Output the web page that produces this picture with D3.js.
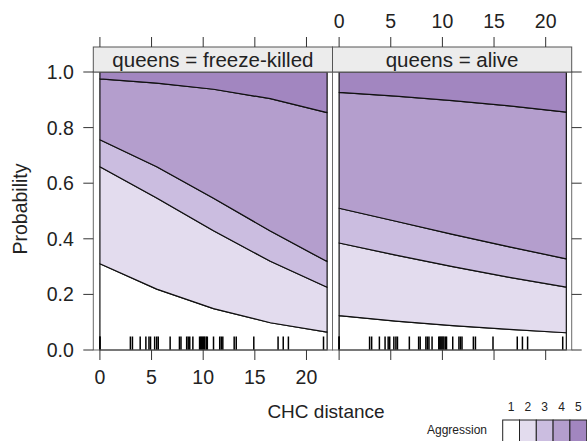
<!DOCTYPE html>
<html>
<head>
<meta charset="utf-8">
<script src="https://cdn.jsdelivr.net/npm/d3@7"></script>
<style>
  body { margin: 0; background: #fff; }
  svg { display: block; font-family: "Liberation Sans", Arial, sans-serif; }
</style>
</head>
<body>
<div id="chart"></div>
<script>
// ── Data ──
const panelNames = ["queens = freeze-killed", "queens = alive"];
const distance = [0, 5.5, 11, 16.5, 22];

// cumulative probabilities P(Aggression <= k), k = 1..4
const freezeKilled = [
    [0.310, 0.219, 0.149, 0.098, 0.064],
    [0.659, 0.547, 0.429, 0.319, 0.226],
    [0.756, 0.659, 0.546, 0.428, 0.318],
    [0.975, 0.960, 0.938, 0.904, 0.854]
];
const alive = [
    [0.124, 0.104, 0.088, 0.074, 0.062],
    [0.385, 0.341, 0.300, 0.261, 0.226],
    [0.510, 0.463, 0.416, 0.371, 0.328],
    [0.927, 0.913, 0.897, 0.878, 0.856]
];

const rugValues = [0, 0, 2.95, 3.15, 3.9, 4.45, 4.75, 4.9, 5.3, 5.5, 5.65, 6.8, 7.7, 7.85,
    8.4, 8.55, 8.7, 9.0, 9.65, 9.75, 9.85, 9.95, 10.05, 10.15, 10.3, 10.4, 11.0, 11.6,
    11.75, 11.9, 13.0, 13.2, 14.9, 17.25, 17.75, 18.25, 21.65];

const levels = ["1", "2", "3", "4", "5"];
const levelColors = ["#ffffff", "#e3dcee", "#cbbde0", "#b49ecd", "#a286c0"];
const xTicks = [0, 5, 10, 15, 20];
const yTicks = [0, 0.2, 0.4, 0.6, 0.8, 1.0];

// ── Layout ──
const width = 587, height = 441;
const panelW = 239.2, panelTop = 72, panelBottom = 350, stripTop = 47;
const panelLefts = [93.3, 93.3 + panelW];
const tickLen = 10;

const svg = d3.select("#chart").append("svg")
    .attr("width", width)
    .attr("height", height);

const y = d3.scaleLinear().domain([0, 1]).range([panelBottom, panelTop]);

[freezeKilled, alive].forEach((cum, p) => {
    const left = panelLefts[p];
    const x = d3.scaleLinear().domain([-0.64, 22.52]).range([left, left + panelW]);
    const g = svg.append("g");

    // ── Stacked bands ──
    const area = d3.area()
        .x((d, i) => x(distance[i]))
        .y0(d => y(d[0]))
        .y1(d => y(d[1]));

    levels.forEach((lev, k) => {
        const band = distance.map((_, i) => [
            k === 0 ? 0 : cum[k - 1][i],
            k === levels.length - 1 ? 1 : cum[k][i]
        ]);
        g.append("path")
            .datum(band)
            .attr("d", area)
            .attr("fill", levelColors[k])
            .attr("stroke", "#111")
            .attr("stroke-width", 1.2)
            .attr("stroke-linejoin", "round");
    });

    // ── Rug ──
    g.selectAll(".rug")
        .data(rugValues)
        .enter()
        .append("line")
        .attr("x1", d => x(d)).attr("x2", d => x(d))
        .attr("y1", panelBottom - 13.5).attr("y2", panelBottom)
        .attr("stroke", "#000")
        .attr("stroke-width", 1.5);

    // ── Panel border ──
    g.append("rect")
        .attr("x", left).attr("y", panelTop)
        .attr("width", panelW).attr("height", panelBottom - panelTop)
        .attr("fill", "none")
        .attr("stroke", "#6a6a6a")
        .attr("stroke-width", 1);

    // ── Strip ──
    g.append("rect")
        .attr("x", left).attr("y", stripTop)
        .attr("width", panelW).attr("height", panelTop - stripTop)
        .attr("fill", "#ececec")
        .attr("stroke", "#555")
        .attr("stroke-width", 1);

    g.append("text")
        .attr("x", left + panelW / 2)
        .attr("y", (stripTop + panelTop) / 2)
        .attr("dy", "0.35em")
        .attr("text-anchor", "middle")
        .attr("font-size", 20.5)
        .attr("fill", "#222")
        .text(panelNames[p]);

    // ── X ticks: bottom on both, top on both; labels alternate ──
    const tickColor = "#333";
    g.selectAll(".xb")
        .data(xTicks)
        .enter()
        .append("line")
        .attr("x1", d => x(d)).attr("x2", d => x(d))
        .attr("y1", panelBottom).attr("y2", panelBottom + tickLen)
        .attr("stroke", tickColor);

    g.selectAll(".xt")
        .data(xTicks)
        .enter()
        .append("line")
        .attr("x1", d => x(d)).attr("x2", d => x(d))
        .attr("y1", stripTop - tickLen).attr("y2", stripTop)
        .attr("stroke", tickColor);

    if (p === 0) {
        g.selectAll(".xbl")
            .data(xTicks)
            .enter()
            .append("text")
            .attr("x", d => x(d))
            .attr("y", 384)
            .attr("text-anchor", "middle")
            .attr("font-size", 19.5)
            .attr("fill", "#222")
            .text(d => d);

        // left y axis
        g.selectAll(".yl")
            .data(yTicks)
            .enter()
            .append("line")
            .attr("x1", left - tickLen).attr("x2", left)
            .attr("y1", d => y(d)).attr("y2", d => y(d))
            .attr("stroke", tickColor);

        g.selectAll(".yll")
            .data(yTicks)
            .enter()
            .append("text")
            .attr("x", left - 19.5)
            .attr("y", d => y(d))
            .attr("dy", "0.36em")
            .attr("text-anchor", "end")
            .attr("font-size", 19.5)
            .attr("fill", "#222")
            .text(d => d3.format(".1f")(d));
    } else {
        g.selectAll(".xtl")
            .data(xTicks)
            .enter()
            .append("text")
            .attr("x", d => x(d))
            .attr("y", 28)
            .attr("text-anchor", "middle")
            .attr("font-size", 19.5)
            .attr("fill", "#222")
            .text(d => d);

        // right y ticks, no labels
        g.selectAll(".yr")
            .data(yTicks)
            .enter()
            .append("line")
            .attr("x1", left + panelW).attr("x2", left + panelW + tickLen)
            .attr("y1", d => y(d)).attr("y2", d => y(d))
            .attr("stroke", tickColor);
    }
});

// ── Axis titles ──
svg.append("text")
    .attr("transform", `translate(20,${(panelTop + panelBottom) / 2 - 2}) rotate(-90)`)
    .attr("dy", "0.35em")
    .attr("text-anchor", "middle")
    .attr("font-size", 19.5)
    .attr("fill", "#222")
    .text("Probability");

svg.append("text")
    .attr("x", 326)
    .attr("y", 418)
    .attr("text-anchor", "middle")
    .attr("font-size", 19)
    .attr("fill", "#222")
    .text("CHC distance");

// ── Legend ──
const legendX = d3.scaleBand().domain(levels).range([502.7, 586.7]);
const legend = svg.append("g");

legend.selectAll("rect")
    .data(levels)
    .enter()
    .append("rect")
    .attr("x", d => legendX(d))
    .attr("y", 420)
    .attr("width", legendX.bandwidth())
    .attr("height", 30)
    .attr("fill", (d, i) => levelColors[i])
    .attr("stroke", "#222")
    .attr("stroke-width", 1);

legend.selectAll(".lev")
    .data(levels)
    .enter()
    .append("text")
    .attr("x", d => legendX(d) + legendX.bandwidth() / 2)
    .attr("y", 411)
    .attr("text-anchor", "middle")
    .attr("font-size", 12)
    .attr("fill", "#222")
    .text(d => d);

legend.append("text")
    .attr("x", 487)
    .attr("y", 434)
    .attr("text-anchor", "end")
    .attr("font-size", 12)
    .attr("fill", "#222")
    .text("Aggression");
</script>
</body>
</html>
